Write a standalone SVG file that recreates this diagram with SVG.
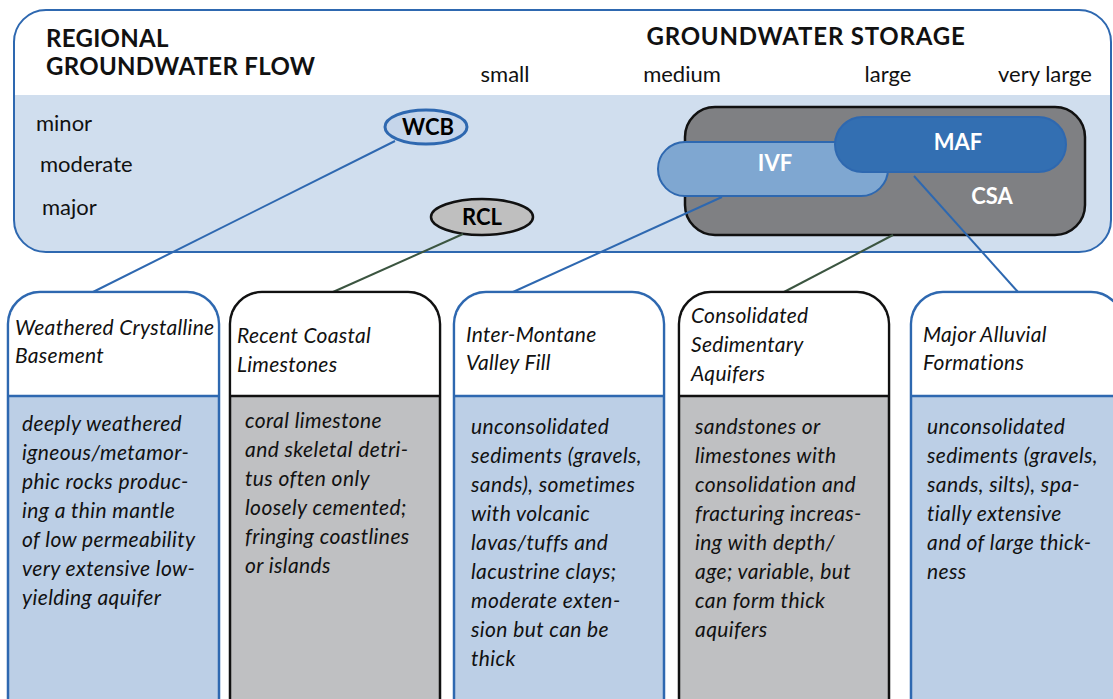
<svg xmlns="http://www.w3.org/2000/svg" width="1113" height="699" viewBox="0 0 1113 699">
<style>
.t{font-family:Lato,"Open Sans","DejaVu Sans",sans-serif;fill:#111}
.h{font-family:Lato,"Open Sans",sans-serif;font-weight:bold;font-size:24px;letter-spacing:0.3px;fill:#111}
.s{font-size:22px}
.lbl{font-family:Lato,"Open Sans",sans-serif;font-weight:bold;font-size:22px;text-anchor:middle}
.w{fill:#fff}
.it{font-family:Lato,"Open Sans",sans-serif;font-style:italic;font-size:21px;letter-spacing:0.4px;fill:#111}
.hd{letter-spacing:0.3px}
.hdr{fill:#fff;stroke:none}
.conB{stroke:#2e68b0;stroke-width:2;fill:none}
.conG{stroke:#3b5540;stroke-width:2;fill:none}
</style>
<g id="panel">
<rect x="14" y="10" width="1097" height="242" rx="32" fill="#d0deee"/>
<path d="M14,95 V42 A32,32 0 0 1 46,10 H1079 A32,32 0 0 1 1111,42 V95 Z" fill="#fff"/>
<rect x="14" y="10" width="1097" height="242" rx="32" fill="none" stroke="#2e68b0" stroke-width="2"/>
<text class="h" x="46" y="47">REGIONAL</text>
<text class="h" x="46" y="75">GROUNDWATER FLOW</text>
<text class="h" x="806" y="45" text-anchor="middle" style="letter-spacing:0.8px">GROUNDWATER STORAGE</text>
<text class="t s" x="505" y="82" text-anchor="middle">small</text>
<text class="t s" x="682" y="82" text-anchor="middle">medium</text>
<text class="t s" x="888" y="82" text-anchor="middle">large</text>
<text class="t s" x="1045" y="82" text-anchor="middle">very large</text>
<text class="t s" x="36" y="131">minor</text>
<text class="t s" x="40" y="172">moderate</text>
<text class="t s" x="42" y="215">major</text>
</g>
<g id="CSA">
<rect x="685" y="107" width="400" height="128" rx="30" fill="#7f8083" stroke="#111" stroke-width="2.5"/>
<text class="lbl w" x="992" y="204">CSA</text>
</g>
<g id="IVF">
<rect x="658" y="142" width="230" height="54" rx="27" fill="#7fa7d1" stroke="#2e68b0" stroke-width="2"/>
<text class="lbl w" x="775" y="171">IVF</text>
</g>
<g id="MAF">
<rect x="835" y="117" width="231" height="55" rx="27.5" fill="#336fb2" stroke="#2e68b0" stroke-width="2"/>
<text class="lbl w" x="958" y="150">MAF</text>
</g>
<g id="WCB">
<ellipse cx="426" cy="127" rx="41" ry="17" fill="#c5d5ea" stroke="#2e68b0" stroke-width="3"/>
<text class="lbl" x="428" y="135">WCB</text>
</g>
<g id="RCL">
<ellipse cx="482" cy="217" rx="51" ry="18" fill="#bfbfbf" stroke="#111" stroke-width="2.5"/>
<text class="lbl" x="482" y="225">RCL</text>
</g>
<g id="connectors">
<line class="conB" x1="395" y1="141" x2="93" y2="292"/>
<line class="conG" x1="463" y1="234" x2="333" y2="292"/>
<line class="conB" x1="722" y1="197" x2="513" y2="292"/>
<line class="conG" x1="893" y1="235" x2="784" y2="292"/>
<line class="conB" x1="914" y1="176" x2="1018" y2="292"/>
</g>
<g id="box-WCB">
<rect x="8" y="292" width="211" height="440" rx="32" fill="#bccfe6" stroke="#2e68b0" stroke-width="2.5"/>
<path class="hdr" d="M9.3,396 V324 A31,31 0 0 1 40,293.3 H187 A31,31 0 0 1 217.7,324 V396 Z"/>
<line x1="8" y1="396" x2="219" y2="396" stroke="#2e68b0" stroke-width="2.5"/>
<text class="it hd"><tspan x="15" y="335">Weathered Crystalline</tspan><tspan x="15" y="363">Basement</tspan></text>
<text class="it"><tspan x="22" y="431">deeply weathered</tspan><tspan x="22" y="460">igneous/metamor-</tspan><tspan x="22" y="489">phic rocks produc-</tspan><tspan x="22" y="518">ing a thin mantle</tspan><tspan x="22" y="547">of low permeability</tspan><tspan x="22" y="576">very extensive low-</tspan><tspan x="22" y="605">yielding aquifer</tspan></text>
</g>
<g id="box-RCL">
<rect x="230" y="292" width="210" height="440" rx="32" fill="#bfc0c2" stroke="#111" stroke-width="2.5"/>
<path class="hdr" d="M231.3,396 V324 A31,31 0 0 1 262,293.3 H408 A31,31 0 0 1 438.7,324 V396 Z"/>
<line x1="230" y1="396" x2="440" y2="396" stroke="#111" stroke-width="2.5"/>
<text class="it hd"><tspan x="237" y="343">Recent Coastal</tspan><tspan x="237" y="372">Limestones</tspan></text>
<text class="it"><tspan x="245" y="428">coral limestone</tspan><tspan x="245" y="457">and skeletal detri-</tspan><tspan x="245" y="486">tus often only</tspan><tspan x="245" y="515">loosely cemented;</tspan><tspan x="245" y="544">fringing coastlines</tspan><tspan x="245" y="573">or islands</tspan></text>
</g>
<g id="box-IVF">
<rect x="454" y="292" width="210" height="440" rx="32" fill="#bccfe6" stroke="#2e68b0" stroke-width="2.5"/>
<path class="hdr" d="M455.3,396 V324 A31,31 0 0 1 486,293.3 H632 A31,31 0 0 1 662.7,324 V396 Z"/>
<line x1="454" y1="396" x2="664" y2="396" stroke="#2e68b0" stroke-width="2.5"/>
<text class="it hd"><tspan x="466" y="342">Inter-Montane</tspan><tspan x="466" y="370">Valley Fill</tspan></text>
<text class="it"><tspan x="471" y="434">unconsolidated</tspan><tspan x="471" y="463">sediments (gravels,</tspan><tspan x="471" y="492">sands), sometimes</tspan><tspan x="471" y="521">with volcanic</tspan><tspan x="471" y="550">lavas/tuffs and</tspan><tspan x="471" y="579">lacustrine clays;</tspan><tspan x="471" y="608">moderate exten-</tspan><tspan x="471" y="637">sion but can be</tspan><tspan x="471" y="666">thick</tspan></text>
</g>
<g id="box-CSA">
<rect x="679" y="292" width="210" height="440" rx="32" fill="#bfc0c2" stroke="#111" stroke-width="2.5"/>
<path class="hdr" d="M680.3,396 V324 A31,31 0 0 1 711,293.3 H857 A31,31 0 0 1 887.7,324 V396 Z"/>
<line x1="679" y1="396" x2="889" y2="396" stroke="#111" stroke-width="2.5"/>
<text class="it hd"><tspan x="691" y="323">Consolidated</tspan><tspan x="691" y="352">Sedimentary</tspan><tspan x="691" y="381">Aquifers</tspan></text>
<text class="it"><tspan x="695" y="434">sandstones or</tspan><tspan x="695" y="463">limestones with</tspan><tspan x="695" y="492">consolidation and</tspan><tspan x="695" y="521">fracturing increas-</tspan><tspan x="695" y="550">ing with depth/</tspan><tspan x="695" y="579">age; variable, but</tspan><tspan x="695" y="608">can form thick</tspan><tspan x="695" y="637">aquifers</tspan></text>
</g>
<g id="box-MAF">
<rect x="911" y="292" width="212" height="440" rx="32" fill="#bccfe6" stroke="#2e68b0" stroke-width="2.5"/>
<path class="hdr" d="M912.3,396 V324 A31,31 0 0 1 943,293.3 H1090 A31,31 0 0 1 1121.7,324 V396 Z"/>
<line x1="911" y1="396" x2="1123" y2="396" stroke="#2e68b0" stroke-width="2.5"/>
<text class="it hd"><tspan x="923" y="342">Major Alluvial</tspan><tspan x="923" y="370">Formations</tspan></text>
<text class="it"><tspan x="927" y="434">unconsolidated</tspan><tspan x="927" y="463">sediments (gravels,</tspan><tspan x="927" y="492">sands, silts), spa-</tspan><tspan x="927" y="521">tially extensive</tspan><tspan x="927" y="550">and of large thick-</tspan><tspan x="927" y="579">ness</tspan></text>
</g>
</svg>
